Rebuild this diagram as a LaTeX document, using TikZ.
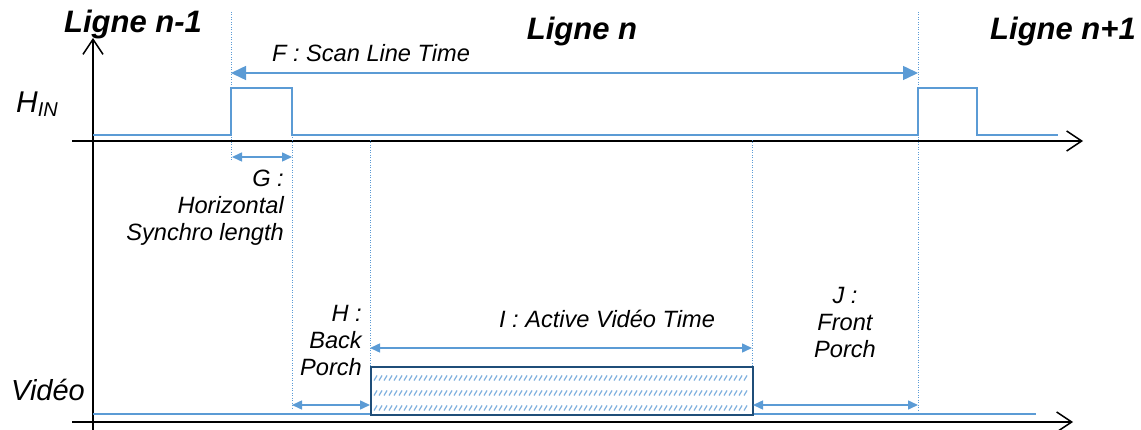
\documentclass[tikz,border=0pt]{standalone}
\usepackage{fontspec}
\setmainfont{Liberation Sans}
\usetikzlibrary{arrows.meta}

\definecolor{signal_blue}{HTML}{5B9BD5}
\definecolor{box_blue}{HTML}{1F4E79}
\definecolor{hatch_blue}{HTML}{7FB0DE}
\tikzstyle{axis_line}=[draw=black,
                       line width=1.5pt,
                       -{Straight Barb[length=15pt, width=20pt]}, ]
\tikzstyle{signal_line}=[draw=signal_blue,
                         line width=2pt, ]
\tikzstyle{time_mark}=[draw=signal_blue,
                       line width=1pt,
                       dash pattern=on 1pt off 1.5pt, ]
\tikzstyle{span_arrow}=[draw=signal_blue,
                        line width=1.5pt,
                        {Triangle[length=10pt, width=9pt]}-{Triangle[length=10pt, width=9pt]}, ]
\tikzstyle{long_span_arrow}=[span_arrow,
                             {Triangle[length=15pt, width=14pt]}-{Triangle[length=15pt, width=14pt]}, ]
\tikzstyle{title_text}=[font=\fontsize{31}{37}\selectfont\bfseries\itshape,
                        inner sep=0,
                        anchor=base, ]
\tikzstyle{label_text}=[font=\fontsize{23.6}{27}\selectfont\itshape,
                        inner sep=0, ]

\begin{document}
\begin{tikzpicture}[x=1pt, y=-1pt]
  \useasboundingbox (0,0) rectangle (1141,430);

  % Axes
  % -------------------------------------------------------------
  \draw[axis_line] (93,430) -- (93,38);
  \draw[axis_line] (72,141) -- (1083,141);
  \draw[axis_line] (72,422) -- (1073,422);

  % Time marks
  % -------------------------------------------------------------
  \foreach \x/\ya/\yb in {231/12/160, 292/135/410, 370/140/366, 752/140/366, 918/12/412} {
      \draw[time_mark] (\x,\ya) -- (\x,\yb);
    }

  % Signals
  % -------------------------------------------------------------
  \draw[signal_line] (93,135) -- (231,135) -- (231,88) -- (292,88) -- (292,135)
    -- (918,135) -- (918,88) -- (977,88) -- (977,135) -- (1058,135);
  \draw[signal_line] (93,414) -- (1036,414);

  \node at (370,366) (video_box) [draw=box_blue, line width=2pt, fill=white,
    minimum width=382, minimum height=48, anchor=north west, inner sep=0] {};
  \foreach \row in {378, 393, 408} {
      \foreach \col in {374, 379, ..., 746} {
          \draw[draw=hatch_blue, line width=1.2pt] (\col,\row+2.5) -- (\col+3,\row-2.5);
        }
    }

  % Durations
  % -------------------------------------------------------------
  \coordinate (f_left) at (231,73);
  \coordinate (f_right) at (918,73);
  \draw[long_span_arrow] (f_left) -- (f_right);
  \foreach \name/\xa/\xb/\y in {g/232/292/157, h/292/370/405, i/370/752/348, j/753/918/405} {
      \coordinate (\name_left) at (\xa,\y);
      \coordinate (\name_right) at (\xb,\y);
      \draw[span_arrow] (\name_left) -- (\name_right);
    }

  % Labels
  % -------------------------------------------------------------
  \node at (133,33) (ligne_prev) [title_text] {Ligne n-1};
  \node at (582,40) (ligne_cur) [title_text] {Ligne n};
  \node at (1063,40) (ligne_next) [title_text] {Ligne n+1};

  \node at (16,113) (label_hin) [inner sep=0, anchor=base west,
    font=\fontsize{30}{30}\selectfont\itshape] {H\raisebox{-4pt}{\fontsize{20}{20}\selectfont IN}};
  \node at (11,400) (label_video) [inner sep=0, anchor=base west,
    font=\fontsize{29}{29}\selectfont\itshape] {Vidéo};

  \node at (371,62) (label_f) [label_text, anchor=base] {F : Scan Line Time};
  \node at (284,170) (label_g) [label_text, anchor=north east, align=right] {G :\\Horizontal\\Synchro length};
  \node at (362,305) (label_h) [label_text, anchor=north east, align=right] {H :\\Back\\Porch};
  \node at (607,328) (label_i) [label_text, anchor=base] {I : Active Vidéo Time};
  \node at (845,287) (label_j) [label_text, anchor=north, align=center] {J :\\Front\\Porch};
\end{tikzpicture}
\end{document}
